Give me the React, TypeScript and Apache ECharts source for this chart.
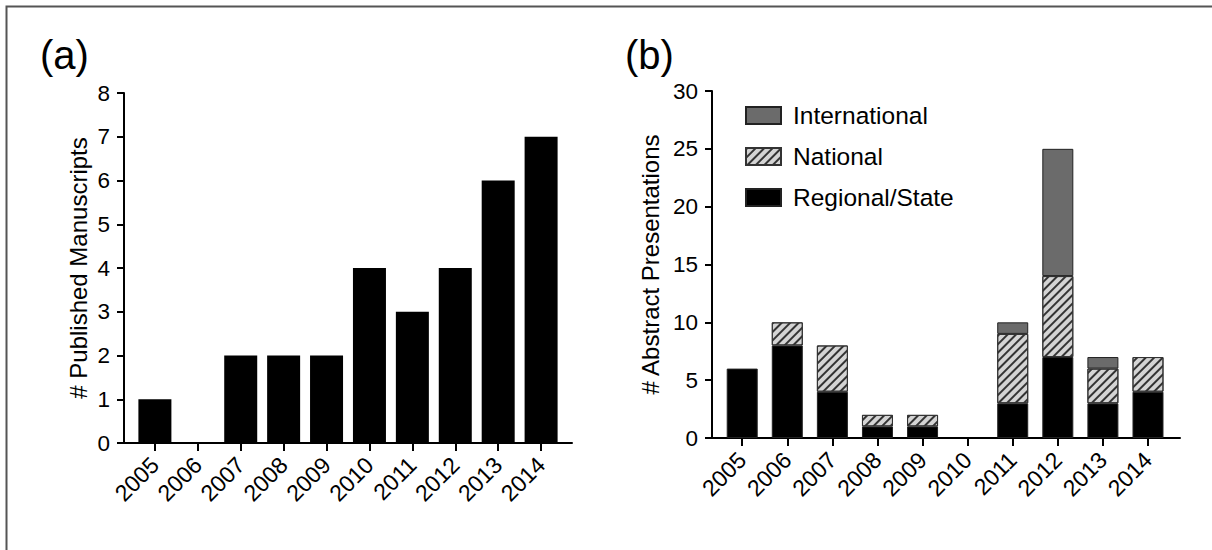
import React, { useEffect, useRef } from "react";
import * as echarts from "echarts";

const years = ["2005", "2006", "2007", "2008", "2009", "2010", "2011", "2012", "2013", "2014"];
const manuscripts = [1, 0, 2, 2, 2, 4, 3, 4, 6, 7];
const regional = [6, 8, 4, 1, 1, 0, 3, 7, 3, 4];
const national = [0, 2, 4, 1, 1, 0, 6, 7, 3, 3];
const international = [0, 0, 0, 0, 0, 0, 1, 11, 1, 0];

const FONT = "'Liberation Sans', Arial, Helvetica, sans-serif";
const idx = years.map((_, i) => i);
const noZero = (arr: number[]) => arr.map((v) => (v === 0 ? "-" : v));

// visible frames (axis lines/ticks/labels) and bar plotting areas overlayed on them
const A = { left: 124, top: 93, width: 448, height: 350, min: -0.72, max: 9.72 };
const B = { left: 712, top: 91, width: 468, height: 347, min: -0.67, max: 9.71 };
const barGrid = (g: typeof A) => {
  const unit = g.width / (g.max - g.min);
  return { left: g.left + (-0.5 - g.min) * unit, top: g.top, width: 10 * unit, height: g.height };
};

export default function App() {
  const ref = useRef<HTMLDivElement>(null);
  useEffect(() => {
    if (!ref.current) return;
    const chart = echarts.init(ref.current, null, { renderer: "svg" });
    const visX = (gridIndex: number, g: typeof A) => ({
      type: "value",
      gridIndex,
      min: g.min,
      max: g.max,
      splitLine: { show: false },
      axisLine: { show: true, onZero: false, lineStyle: { color: "#000", width: 2 } },
      axisTick: { show: true, customValues: idx, length: 8, lineStyle: { color: "#000", width: 2 } },
      axisLabel: {
        customValues: idx,
        rotate: 45,
        margin: 18,
        fontSize: 23,
        color: "#000",
        fontFamily: FONT,
        formatter: (v: number) => years[Math.round(v)],
      },
    });
    const visY = (gridIndex: number, max: number, interval: number, name: string, gap: number) => ({
      type: "value",
      gridIndex,
      min: 0,
      max,
      interval,
      name,
      nameLocation: "middle",
      nameGap: gap,
      nameTextStyle: { fontSize: 24, color: "#000", fontFamily: FONT },
      splitLine: { show: false },
      axisLine: { show: true, onZero: false, lineStyle: { color: "#000", width: 2 } },
      axisTick: { show: true, length: 7, lineStyle: { color: "#000", width: 2 } },
      axisLabel: { margin: 14, fontSize: 22.5, color: "#000", fontFamily: FONT },
    });
    const hidX = (gridIndex: number) => ({
      type: "category",
      gridIndex,
      data: years,
      boundaryGap: true,
      show: false,
    });
    const hidY = (gridIndex: number, max: number) => ({
      type: "value",
      gridIndex,
      min: 0,
      max,
      show: false,
      splitLine: { show: false },
    });
    const hatch = {
      symbol: "rect",
      symbolSize: 1,
      color: "#333",
      dashArrayX: [1, 0],
      dashArrayY: [2, 4],
      rotation: -Math.PI / 4,
    };
    chart.setOption({
      animation: false,
      backgroundColor: "#fff",
      textStyle: { fontFamily: FONT },
      graphic: [
        {
          type: "rect",
          shape: { x: 6.5, y: 6.5, width: 1300, height: 600 },
          style: { fill: "none", stroke: "#555", lineWidth: 2 },
          silent: true,
        },
        { type: "text", left: 40, top: 35, style: { text: "(a)", fontSize: 40, fill: "#000", fontFamily: FONT } },
        { type: "text", left: 625, top: 35, style: { text: "(b)", fontSize: 40, fill: "#000", fontFamily: FONT } },
      ],
      legend: {
        orient: "vertical",
        left: 740,
        top: 98,
        itemWidth: 35,
        itemHeight: 17,
        itemGap: 16,
        icon: "rect",
        data: ["International", "National", "Regional/State"],
        textStyle: { fontSize: 24.5, color: "#000", fontFamily: FONT, padding: [0, 0, 0, 7] },
      },
      grid: [
        { left: A.left, top: A.top, width: A.width, height: A.height },
        barGrid(A),
        { left: B.left, top: B.top, width: B.width, height: B.height },
        barGrid(B),
      ],
      xAxis: [visX(0, A), hidX(1), visX(2, B), hidX(3)],
      yAxis: [
        visY(0, 8, 1, "# Published Manuscripts", 34),
        hidY(1, 8),
        visY(2, 30, 5, "# Abstract Presentations", 50),
        hidY(3, 30),
      ],
      series: [
        {
          type: "bar",
          name: "Manuscripts",
          xAxisIndex: 1,
          yAxisIndex: 1,
          barWidth: 33,
          data: manuscripts,
          itemStyle: { color: "#000" },
        },
        {
          type: "bar",
          name: "Regional/State",
          stack: "b",
          xAxisIndex: 3,
          yAxisIndex: 3,
          barWidth: 31,
          data: noZero(regional),
          itemStyle: { color: "#000", borderColor: "#222", borderWidth: 1 },
        },
        {
          type: "bar",
          name: "National",
          stack: "b",
          xAxisIndex: 3,
          yAxisIndex: 3,
          barWidth: 31,
          data: noZero(national),
          itemStyle: { color: "#d4d4d4", borderColor: "#333", borderWidth: 1, decal: hatch },
        },
        {
          type: "bar",
          name: "International",
          stack: "b",
          xAxisIndex: 3,
          yAxisIndex: 3,
          barWidth: 31,
          data: noZero(international),
          itemStyle: { color: "#6b6b6b", borderColor: "#222", borderWidth: 1 },
        },
      ],
    });
    return () => chart.dispose();
  }, []);
  return (
    <div
      ref={ref}
      style={{ position: "fixed", left: 0, top: 0, width: 1212, height: 550, background: "#fff" }}
    />
  );
}
